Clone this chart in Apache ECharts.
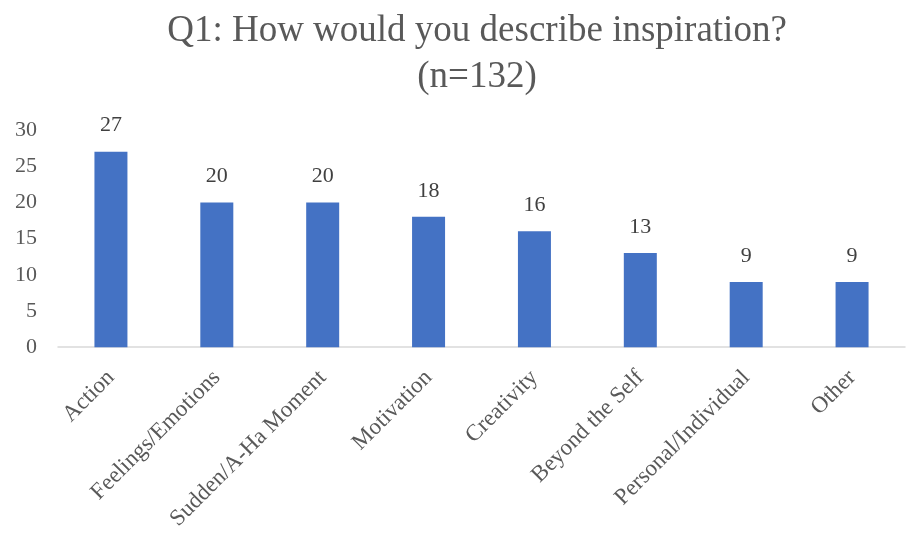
<!DOCTYPE html>
<html>
<head>
<meta charset="utf-8">
<script src="https://cdn.jsdelivr.net/npm/echarts@6/dist/echarts.min.js"></script>
<style>
  html, body { margin: 0; padding: 0; background: #fff; }
  #chart { width: 907px; height: 533px; }
</style>
</head>
<body>
<div id="chart"></div>
<script>
// Responses to Q1, grouped by theme
const categories = ['Action', 'Feelings/Emotions', 'Sudden/A-Ha Moment', 'Motivation',
  'Creativity', 'Beyond the Self', 'Personal/Individual', 'Other'];
const counts = [27, 20, 20, 18, 16, 13, 9, 9];
const yTicks = [0, 5, 10, 15, 20, 25, 30];

const serif = '"Liberation Serif", "Times New Roman", serif';

const chart = echarts.init(document.getElementById('chart'));
chart.setOption({
  animation: false,
  title: {
    text: 'Q1: How would you describe inspiration?\n(n=132)',
    left: 472,
    textAlign: 'center',
    top: 3,
    textStyle: {
      fontFamily: serif,
      fontSize: 37,
      fontWeight: 'normal',
      color: '#595959',
      lineHeight: 46
    }
  },
  grid: { left: 58, right: 2, top: 130, bottom: 184, containLabel: false },
  xAxis: {
    type: 'category',
    data: categories,
    axisLine: { lineStyle: { color: '#d9d9d9', width: 1.5 } },
    axisTick: { show: false },
    axisLabel: {
      rotate: 45,
      interval: 0,
      margin: 27,
      fontFamily: serif,
      fontSize: 23,
      color: '#595959'
    }
  },
  yAxis: {
    type: 'value',
    min: yTicks[0],
    max: yTicks[yTicks.length - 1],
    interval: yTicks[1] - yTicks[0],
    splitLine: { show: false },
    axisLine: { show: false },
    axisTick: { show: false },
    axisLabel: {
      margin: 21,
      fontFamily: serif,
      fontSize: 22,
      color: '#595959'
    }
  },
  series: [{
    type: 'bar',
    data: counts,
    barWidth: 33,
    itemStyle: { color: '#4472c4' },
    label: {
      show: true,
      position: 'top',
      distance: 15,
      fontFamily: serif,
      fontSize: 22,
      color: '#404040'
    }
  }]
});
</script>
</body>
</html>
